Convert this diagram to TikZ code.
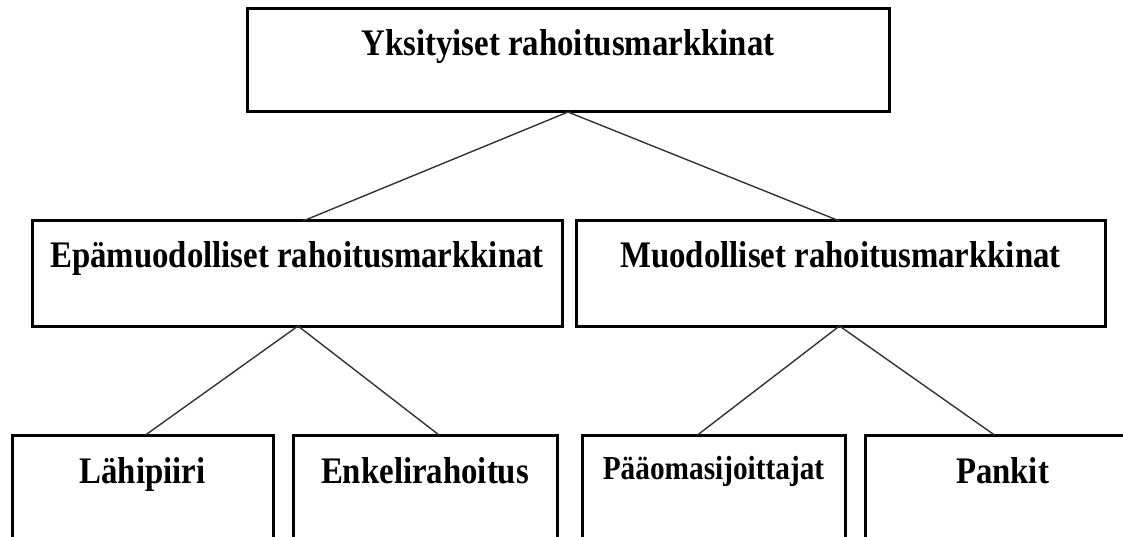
\documentclass[tikz,border=0pt]{standalone}
\usepackage{fontspec}
\setmainfont{Liberation Serif}[FakeStretch=0.875]
\usetikzlibrary{positioning}
\begin{document}
\begin{tikzpicture}[x=1pt,y=-1pt,
  box/.style={draw=black,line width=3pt,fill=white,rectangle,inner sep=0pt,outer sep=0pt},
  title/.style={anchor=base,inner sep=0pt,font=\fontsize{37.5}{42}\selectfont\bfseries},
  smalltitle/.style={anchor=base,inner sep=0pt,font=\fontsize{33.5}{38}\selectfont\bfseries},
  link/.style={draw=black!80,line width=1.4pt}]
  \useasboundingbox (0,0) rectangle (1123,537);

  % boxes: centre = midpoint of edges, size = edge-to-edge distance
  \node[box,minimum width=642pt,minimum height=103pt] (top) at (568,60.5) {};
  \node[box,minimum width=530pt,minimum height=105pt] (epa) at (297,273.5) {};
  \node[box,minimum width=529pt,minimum height=105pt] (muo) at (840.5,273.5) {};
  \node[box,minimum width=261pt,minimum height=140pt] (lahi) at (142.5,505) {};
  \node[box,minimum width=264pt,minimum height=140pt] (enk) at (425,505) {};
  \node[box,minimum width=263pt,minimum height=140pt] (paa) at (713.5,505) {};
  \node[box,minimum width=275pt,minimum height=140pt] (pan) at (1002.5,505) {};

  % labels, set on a baseline below each box's upper edge
  \node[title] (ttop) at ([yshift=-47pt]top.north) {Yksityiset rahoitusmarkkinat};
  \node[title] (tepa) at ([yshift=-46pt]epa.north) {Epämuodolliset rahoitusmarkkinat};
  \node[title] (tmuo) at ([yshift=-46pt]muo.north) {Muodolliset rahoitusmarkkinat};
  \node[title] (tlahi) at ([yshift=-48pt]lahi.north) {Lähipiiri};
  \node[title] (tenk) at ([yshift=-48pt]enk.north) {Enkelirahoitus};
  \node[smalltitle] (tpaa) at ([yshift=-44pt]paa.north) {Pääomasijoittajat};
  \node[title] (tpan) at ([yshift=-48pt]pan.north) {Pankit};

  % connectors
  \draw[link] (top.south) -- ([xshift=6pt]epa.north);
  \draw[link] (top.south) -- ([xshift=-1pt]muo.north);
  \draw[link] ([xshift=1pt]epa.south) -- ([xshift=3pt]lahi.north);
  \draw[link] ([xshift=1pt]epa.south) -- ([xshift=14pt]enk.north);
  \draw[link] ([xshift=-1pt]muo.south) -- ([xshift=-16pt]paa.north);
  \draw[link] ([xshift=-1pt]muo.south) -- ([xshift=-8pt]pan.north);
\end{tikzpicture}
\end{document}
